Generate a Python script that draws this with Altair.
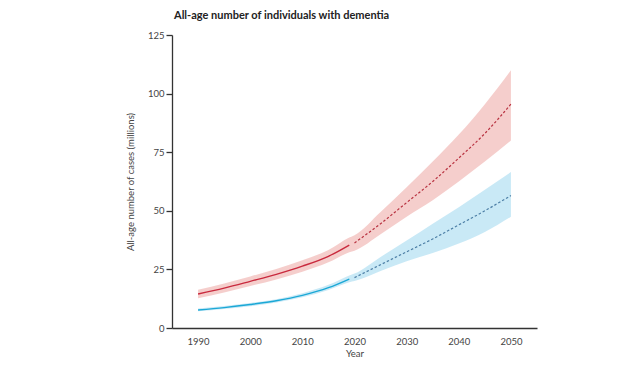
import altair as alt
import pandas as pd

# ---- data ----
hist_years = [1990, 1995, 2000, 2005, 2010, 2015, 2019]
proj_years = [2020, 2025, 2030, 2035, 2040, 2045, 2050]

red_hist = [14.5, 17.0, 19.9, 22.9, 26.4, 30.6, 35.4]
red_hist_lo = [12.7, 15.1, 17.9, 20.7, 24.0, 28.0, 32.3]
red_hist_hi = [16.3, 19.0, 22.0, 25.2, 28.9, 33.3, 38.6]
red_proj = [36.3, 44.5, 53.5, 62.5, 72.5, 83.0, 95.5]
red_proj_lo = [33.0, 40.0, 47.5, 54.5, 62.5, 71.0, 80.0]
red_proj_hi = [39.6, 49.5, 60.0, 71.0, 82.5, 95.5, 110.0]

blue_hist = [7.7, 8.7, 10.0, 11.6, 13.9, 17.2, 20.9]
blue_hist_lo = [7.1, 8.1, 9.3, 10.9, 13.1, 16.2, 19.5]
blue_hist_hi = [8.3, 9.4, 10.7, 12.3, 14.8, 18.4, 22.4]
blue_proj = [21.5, 27.0, 32.5, 38.0, 44.0, 50.0, 56.5]
blue_proj_lo = [20.0, 24.3, 28.5, 32.0, 36.0, 41.0, 47.5]
blue_proj_hi = [23.2, 30.3, 37.3, 44.5, 51.5, 59.0, 66.5]

rows = []
for s, yrs, mid, lo, hi, per in [
    ("red", hist_years, red_hist, red_hist_lo, red_hist_hi, "hist"),
    ("red", proj_years, red_proj, red_proj_lo, red_proj_hi, "proj"),
    ("blue", hist_years, blue_hist, blue_hist_lo, blue_hist_hi, "hist"),
    ("blue", proj_years, blue_proj, blue_proj_lo, blue_proj_hi, "proj"),
]:
    for y, m, l, h in zip(yrs, mid, lo, hi):
        rows.append({"series": s, "period": per, "year": y, "mid": m, "lo": l, "hi": h})
df = pd.DataFrame(rows)

FONT = "Lato"
x_scale = alt.Scale(domain=[1985, 2055], nice=False, zero=False)
y_scale = alt.Scale(domain=[0, 125], nice=False)

x_axis = alt.Axis(
    title="Year",
    values=[1990, 1995, 2000, 2005, 2010, 2015, 2020, 2025, 2030, 2035, 2040, 2045, 2050],
    labelExpr="datum.value % 10 == 0 ? datum.label : ''",
    format="d",
    tickOpacity={"condition": {"test": "datum.value % 10 == 5", "value": 1}, "value": 0},
    grid=False, domainColor="#333333", tickColor="#333333", domainWidth=1.3, tickWidth=1.3,
    tickSize=5, labelPadding=3, labelFont=FONT, labelFontSize=9.5, labelColor="#444444",
    titleFont=FONT, titleFontSize=9.5, titleFontWeight="normal", titleColor="#444444",
    titlePadding=3,
)
y_axis = alt.Axis(
    title="All-age number of cases (millions)",
    values=[0, 25, 50, 75, 100, 125],
    grid=False, domainColor="#333333", tickColor="#333333", domainWidth=1.3, tickWidth=1.3,
    tickSize=6, labelPadding=2, labelFont=FONT, labelFontSize=9.5, labelColor="#444444",
    titleFont=FONT, titleFontSize=9.5, titleFontWeight="normal", titleColor="#444444",
    titlePadding=12,
)

base = alt.Chart(df)

band_red = base.transform_filter("datum.series == 'red'").mark_area(
    color="#f3c6c3", opacity=0.85, interpolate="monotone"
).encode(x=alt.X("year:Q", scale=x_scale, axis=x_axis), y=alt.Y("lo:Q", scale=y_scale, axis=y_axis), y2="hi:Q")

band_blue = base.transform_filter("datum.series == 'blue'").mark_area(
    color="#bfe5f5", opacity=0.85, interpolate="monotone"
).encode(x=alt.X("year:Q", scale=x_scale), y=alt.Y("lo:Q", scale=y_scale), y2="hi:Q")

line_red = base.transform_filter("datum.series == 'red' && datum.period == 'hist'").mark_line(
    color="#c92a3e", strokeWidth=1.4, interpolate="monotone"
).encode(x="year:Q", y="mid:Q")
line_blue = base.transform_filter("datum.series == 'blue' && datum.period == 'hist'").mark_line(
    color="#1ba8d6", strokeWidth=1.4, interpolate="monotone"
).encode(x="year:Q", y="mid:Q")
dash_red = base.transform_filter("datum.series == 'red' && datum.period == 'proj'").mark_line(
    color="#b83240", strokeWidth=1.2, strokeDash=[2.5, 2], interpolate="monotone"
).encode(x="year:Q", y="mid:Q")
dash_blue = base.transform_filter("datum.series == 'blue' && datum.period == 'proj'").mark_line(
    color="#4d7fa6", strokeWidth=1.2, strokeDash=[2.5, 2], interpolate="monotone"
).encode(x="year:Q", y="mid:Q")

chart = alt.layer(band_red, band_blue, line_red, line_blue, dash_red, dash_blue).properties(
    width=365,
    height=293,
    autosize=alt.AutoSizeParams(type="none"),
    padding={"left": 164, "top": 27, "right": 94, "bottom": 31},
    background="white",
    title=alt.TitleParams(
        "All-age number of individuals with dementia",
        anchor="start", frame="group", font=FONT, fontSize=11, fontWeight="bold",
        color="#222222", offset=9, dx=2,
    ),
).configure_view(stroke=None)

chart.save("out.html", embed_options={"renderer": "svg", "actions": False})
